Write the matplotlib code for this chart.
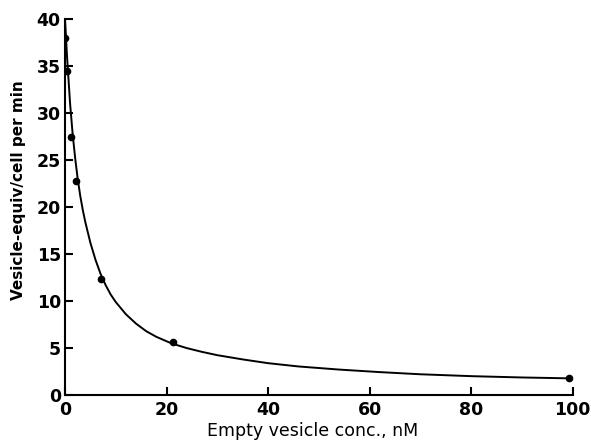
import numpy as np
import matplotlib.pyplot as plt

# measured points (empty vesicle conc. nM, vesicle-equiv/cell per min)
conc = [0.0, 0.4, 1.2, 2.2, 7.1, 21.3, 99.3]
rate = [38.0, 34.5, 27.5, 22.8, 12.3, 5.6, 1.85]

# fitted curve
curve_x = [0.0, 0.2, 0.4, 0.7, 1.0, 1.5, 2.0, 2.5, 3.0, 3.5, 4.0, 5.0, 6.0, 7.0,
           8.0, 9.0, 10, 12, 14, 16, 18, 21, 24, 27, 30, 35, 40, 46, 54, 62,
           70, 80, 90, 100]
curve_y = [40.0, 38.0, 36.0, 33.5, 31.0, 27.8, 25.2, 23.0, 21.2, 19.7, 18.4,
           16.2, 14.4, 12.9, 11.7, 10.7, 9.9, 8.6, 7.6, 6.8, 6.2, 5.5, 5.0,
           4.6, 4.25, 3.8, 3.4, 3.05, 2.72, 2.45, 2.22, 2.02, 1.88, 1.78]

xticks = [0, 20, 40, 60, 80, 100]
yticks = [0, 5, 10, 15, 20, 25, 30, 35, 40]

plt.rcParams['font.family'] = ['DejaVu Sans']

fig = plt.figure(figsize=(5.91, 4.42), dpi=100)
ax = fig.add_axes([0.110, 0.106, 0.859, 0.851])

ax.plot(curve_x, curve_y, color='black', lw=1.4)
ax.plot(conc, rate, 'o', color='black', ms=4.5)

ax.set_xlim(0, 100)
ax.set_ylim(0, 40)
ax.set_xticks(xticks)
ax.set_yticks(yticks)
ax.spines['top'].set_visible(False)
ax.spines['right'].set_visible(False)
for s in ['left', 'bottom']:
    ax.spines[s].set_linewidth(1.5)
ax.tick_params(direction='in', length=6, width=1.5, labelsize=12.5)
ax.tick_params(axis='y', pad=3)
ax.tick_params(axis='x', pad=4)
for lab in ax.get_xticklabels() + ax.get_yticklabels():
    lab.set_fontweight('bold')

ax.set_xlabel('Empty vesicle conc., nM', fontsize=12.5, va='top')
ax.xaxis.set_label_coords(0.488, -0.072)
ax.set_ylabel('Vesicle-equiv/cell per min', fontsize=11, fontweight='bold')
ax.yaxis.set_label_coords(-0.076, 0.545)

fig.savefig('out.png', dpi=100)
